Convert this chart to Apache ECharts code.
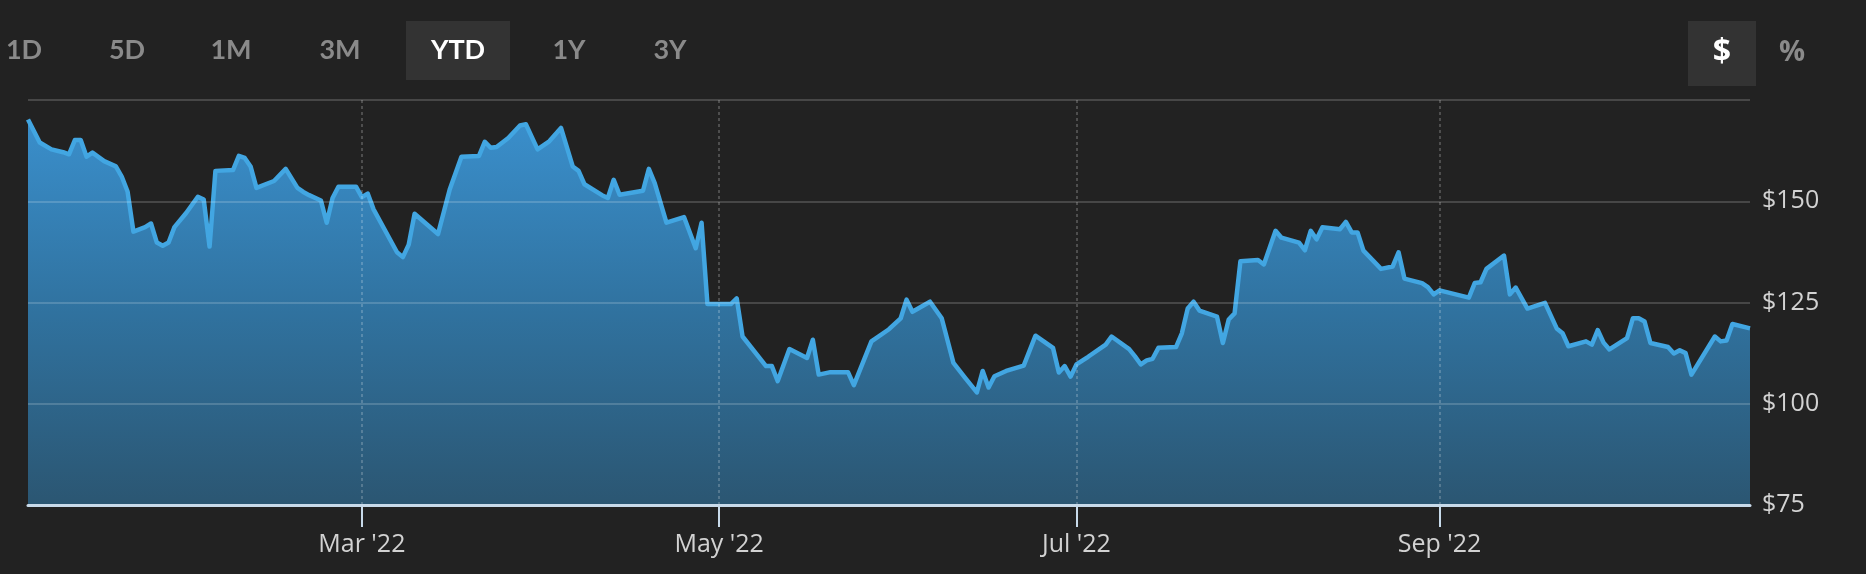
<!DOCTYPE html>
<html>
<head>
<meta charset="utf-8">
<script src="https://cdn.jsdelivr.net/npm/echarts@6/dist/echarts.min.js"></script>
<style>
  html, body { margin: 0; padding: 0; background: #222222; }
  #chart { width: 1866px; height: 574px; }
</style>
</head>
<body>
<div id="chart"></div>
<script>
// closing prices, YTD 2022
const dates = [
  '2022-01-03','2022-01-05','2022-01-07','2022-01-09','2022-01-10','2022-01-11','2022-01-12','2022-01-13',
  '2022-01-14','2022-01-16','2022-01-18','2022-01-19','2022-01-20','2022-01-21','2022-01-23','2022-01-24',
  '2022-01-25','2022-01-26','2022-01-27','2022-01-28','2022-01-30','2022-02-01','2022-02-02','2022-02-03',
  '2022-02-04','2022-02-07','2022-02-08','2022-02-09','2022-02-10','2022-02-11','2022-02-14','2022-02-16',
  '2022-02-18','2022-02-19','2022-02-20','2022-02-22','2022-02-23','2022-02-24','2022-02-25','2022-02-28',
  '2022-03-01','2022-03-02','2022-03-03','2022-03-07','2022-03-08','2022-03-09','2022-03-10','2022-03-14',
  '2022-03-16','2022-03-18','2022-03-21','2022-03-22','2022-03-23','2022-03-24','2022-03-26','2022-03-28',
  '2022-03-29','2022-03-31','2022-04-02','2022-04-04','2022-04-06','2022-04-07','2022-04-08','2022-04-11',
  '2022-04-12','2022-04-13','2022-04-14','2022-04-18','2022-04-19','2022-04-20','2022-04-22','2022-04-25',
  '2022-04-27','2022-04-28','2022-04-29','2022-05-03','2022-05-04','2022-05-05','2022-05-09','2022-05-10',
  '2022-05-11','2022-05-13','2022-05-16','2022-05-17','2022-05-18','2022-05-20','2022-05-23','2022-05-24',
  '2022-05-27','2022-05-30','2022-06-01','2022-06-02','2022-06-03','2022-06-06','2022-06-08','2022-06-10',
  '2022-06-12','2022-06-14','2022-06-15','2022-06-16','2022-06-17','2022-06-19','2022-06-22','2022-06-24',
  '2022-06-27','2022-06-28','2022-06-29','2022-06-30','2022-07-01','2022-07-03','2022-07-06','2022-07-07',
  '2022-07-10','2022-07-11','2022-07-12','2022-07-13','2022-07-14','2022-07-15','2022-07-18','2022-07-19',
  '2022-07-20','2022-07-21','2022-07-22','2022-07-25','2022-07-26','2022-07-27','2022-07-28','2022-07-29',
  '2022-08-01','2022-08-02','2022-08-04','2022-08-05','2022-08-08','2022-08-09','2022-08-10','2022-08-11',
  '2022-08-12','2022-08-15','2022-08-16','2022-08-17','2022-08-18','2022-08-19','2022-08-22','2022-08-24',
  '2022-08-25','2022-08-26','2022-08-29','2022-08-30','2022-08-31','2022-09-01','2022-09-06','2022-09-07',
  '2022-09-08','2022-09-09','2022-09-12','2022-09-13','2022-09-14','2022-09-16','2022-09-19','2022-09-21',
  '2022-09-22','2022-09-23','2022-09-26','2022-09-27','2022-09-28','2022-09-29','2022-09-30','2022-10-03',
  '2022-10-04','2022-10-05','2022-10-06','2022-10-07','2022-10-10','2022-10-11','2022-10-12','2022-10-13',
  '2022-10-14','2022-10-18','2022-10-19','2022-10-20','2022-10-21','2022-10-24'
];
const prices = [
  170.2, 164.5, 162.8, 162.1, 161.6, 165.1, 165.1, 161.0,
  162.0, 159.9, 158.6, 156.1, 152.4, 142.5, 143.6, 144.5,
  139.8, 139.0, 139.8, 143.6, 147.1, 151.1, 150.4, 138.8,
  157.5, 157.7, 161.2, 160.7, 158.6, 153.3, 155.0, 158.0,
  153.3, 152.3, 151.5, 150.2, 144.7, 150.8, 153.6, 153.6,
  151.0, 151.9, 148.0, 137.4, 136.2, 139.3, 146.9, 141.9,
  152.9, 161.0, 161.2, 164.7, 163.2, 163.4, 165.6, 168.7,
  169.0, 162.8, 164.8, 168.1, 158.6, 157.5, 154.2, 151.5,
  150.8, 155.3, 151.6, 152.6, 158.0, 154.5, 144.7, 146.1,
  138.4, 144.7, 124.6, 124.6, 126.0, 116.6, 109.3, 109.3,
  105.6, 113.5, 111.3, 115.8, 107.2, 107.8, 107.8, 104.6,
  115.4, 118.4, 121.1, 125.7, 122.7, 125.2, 121.1, 110.1,
  106.4, 102.8, 108.1, 104.0, 106.8, 108.1, 109.4, 116.8,
  113.8, 107.7, 109.3, 106.7, 109.7, 111.6, 114.6, 116.6,
  113.5, 111.7, 109.7, 110.7, 111.1, 113.8, 114.0, 117.4,
  123.5, 125.2, 123.0, 121.5, 115.0, 120.8, 122.3, 135.2,
  135.5, 134.4, 142.7, 141.0, 139.8, 137.9, 142.7, 140.6,
  143.6, 143.1, 144.9, 142.3, 142.3, 137.8, 133.3, 133.9,
  137.4, 130.9, 129.8, 128.8, 127.0, 128.0, 126.2, 129.8,
  130.0, 133.3, 136.6, 127.0, 128.7, 123.5, 124.9, 118.6,
  117.4, 114.2, 115.4, 114.6, 118.2, 115.1, 113.4, 116.2,
  121.1, 121.1, 120.3, 115.0, 114.0, 112.4, 113.2, 112.5,
  107.2, 116.6, 115.4, 115.6, 119.7, 118.6
];
const tickDates = ['2022-03-01', '2022-05-01', '2022-07-01', '2022-09-01'];
const tickLabels = ["Mar '22", "May '22", "Jul '22", "Sep '22"];
const priceMin = 75;
const priceMax = 175;
const priceStep = 25;
const ranges = ['1D', '5D', '1M', '3M', 'YTD', '1Y', '3Y'];
const activeRange = 'YTD';

// layout of the range buttons (centre x of each label)
const rangeX = [24, 127, 231, 340, 458, 569, 670];

function toTime(s) {
  const p = s.split('-').map(Number);
  return new Date(p[0], p[1] - 1, p[2]).getTime();
}

const tickTimes = tickDates.map(toTime);
const seriesData = dates.map((d, i) => [toTime(d), prices[i]]);

const graphics = [];
ranges.forEach((r, i) => {
  if (r === activeRange) {
    graphics.push({
      type: 'rect', left: 406, top: 21, silent: true,
      shape: { width: 104, height: 59 },
      style: { fill: '#333333' }
    });
  }
  graphics.push({
    type: 'text', x: rangeX[i], y: 50, silent: true,
    style: {
      text: r, fill: r === activeRange ? '#ffffff' : '#8a8a8a',
      font: 'bold 27px Lato', align: 'center', verticalAlign: 'middle'
    }
  });
});
graphics.push(
  { type: 'rect', left: 1688, top: 21, silent: true, shape: { width: 68, height: 65 }, style: { fill: '#333333' } },
  { type: 'text', x: 1722, y: 53, silent: true, style: { text: '$', fill: '#ffffff', font: 'bold 32px "Open Sans"', align: 'center', verticalAlign: 'middle' } },
  { type: 'text', x: 1792, y: 53, silent: true, style: { text: '%', fill: '#8a8a8a', font: 'bold 29px "Open Sans"', align: 'center', verticalAlign: 'middle' } }
);

const myChart = echarts.init(document.getElementById('chart'));
myChart.setOption({
  backgroundColor: '#222222',
  animation: false,
  grid: { left: 28, right: 116, top: 100, bottom: 69, outerBoundsMode: 'none' },
  graphic: graphics,
  xAxis: {
    // timestamps on a plain value axis so the month ticks can be placed exactly
    type: 'value',
    min: toTime(dates[0]),
    max: toTime(dates[dates.length - 1]),
    z: 6,
    axisLine: { show: true, lineStyle: { color: '#c8daea', width: 3 } },
    axisTick: { show: true, customValues: tickTimes, length: 22, lineStyle: { color: '#c8daea', width: 2 } },
    axisLabel: {
      customValues: tickTimes,
      color: '#d2d2d2', fontSize: 25, fontFamily: 'Open Sans', margin: 27,
      formatter: (v) => {
        const i = tickTimes.indexOf(v);
        return i >= 0 ? tickLabels[i] : '';
      }
    },
    splitLine: { show: false }
  },
  yAxis: {
    type: 'value',
    position: 'right',
    min: priceMin,
    max: priceMax,
    interval: priceStep,
    z: 5,
    axisLine: { show: false },
    axisTick: { show: false },
    axisLabel: {
      color: '#d2d2d2', fontSize: 25, fontFamily: 'Open Sans', margin: 12,
      formatter: (v) => (v === priceMax ? '' : '$' + v)
    },
    splitLine: { show: true, lineStyle: { color: 'rgba(255,255,255,0.17)', width: 2 } }
  },
  series: [
    {
      type: 'line',
      data: seriesData,
      showSymbol: false,
      silent: true,
      z: 2,
      lineStyle: { color: '#42a6e2', width: 4.5, join: 'round' },
      areaStyle: {
        opacity: 1,
        color: new echarts.graphic.LinearGradient(0, 0, 0, 1, [
          { offset: 0, color: '#3a8fcc' },
          { offset: 0.5, color: '#30729f' },
          { offset: 1, color: '#2b5672' }
        ])
      },
      // month divider lines
      markLine: {
        silent: true,
        symbol: 'none',
        label: { show: false },
        lineStyle: { color: 'rgba(255,255,255,0.2)', width: 2, type: [3, 3] },
        data: tickTimes.map((t) => [{ coord: [t, priceMin] }, { coord: [t, priceMax] }])
      }
    }
  ]
});
</script>
</body>
</html>
